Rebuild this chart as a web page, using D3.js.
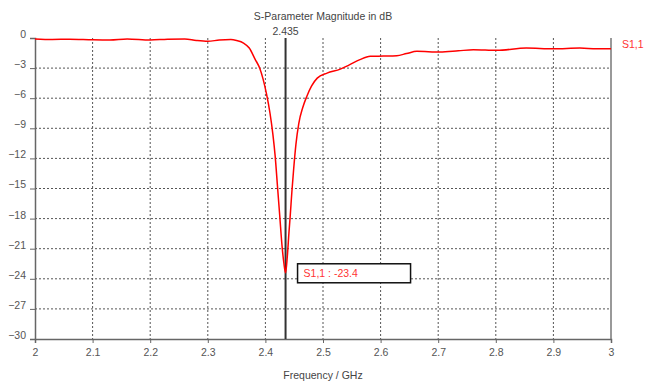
<!DOCTYPE html>
<html>
<head>
<meta charset="utf-8">
<script src="https://cdn.jsdelivr.net/npm/d3@7"></script>
<style>
  body { margin: 0; background: #fff; }
  svg text { font-family: "Liberation Sans", Arial, sans-serif; font-size: 10.5px; }
</style>
</head>
<body>
<svg id="chart"></svg>
<script>
// S1,1
const freq = [2.000, 2.030, 2.060, 2.100, 2.130, 2.160, 2.200, 2.230, 2.260, 2.280,
  2.300, 2.320, 2.340, 2.350, 2.362, 2.372, 2.382, 2.390, 2.396, 2.402,
  2.408, 2.413, 2.417, 2.421, 2.425, 2.429, 2.432, 2.435, 2.438, 2.441,
  2.443, 2.446, 2.449, 2.453, 2.458, 2.465, 2.472, 2.480, 2.490, 2.507,
  2.530, 2.545, 2.564, 2.582, 2.605, 2.628, 2.645, 2.663, 2.703, 2.735,
  2.761, 2.802, 2.853, 2.900, 2.946, 2.975, 3.000];
const s11 = [-0.10, -0.15, -0.12, -0.18, -0.20, -0.10, -0.20, -0.12, -0.10, -0.25,
  -0.33, -0.20, -0.15, -0.25, -0.50, -1.0, -2.1, -3.0, -4.1, -5.6,
  -7.5, -9.6, -11.8, -14.8, -17.8, -20.8, -22.4, -23.4, -21.8, -19.3,
  -17.8, -15.3, -13.1, -10.6, -8.5, -6.9, -5.8, -4.8, -4.0, -3.5,
  -3.1, -2.7, -2.16, -1.83, -1.80, -1.76, -1.55, -1.33, -1.40, -1.28,
  -1.17, -1.23, -1.00, -1.07, -1.00, -1.07, -1.07];
const xTicks = [2, 2.1, 2.2, 2.3, 2.4, 2.5, 2.6, 2.7, 2.8, 2.9, 3];
const yTicks = [0, -3, -6, -9, -12, -15, -18, -21, -24, -27, -30];
const markerX = 2.435;
const markerVal = -23.4;

const W = 654, H = 383;
const margin = {top: 38, right: 43, bottom: 44, left: 35};
const width = W - margin.left - margin.right;
const height = H - margin.top - margin.bottom;
const font = '"Liberation Sans", Arial, sans-serif';

const svg = d3.select('#chart').attr('width', W).attr('height', H);
const g = svg.append('g').attr('transform', 'translate(' + margin.left + ',' + margin.top + ')');

const x = d3.scaleLinear().domain([2, 3]).range([0, width]);
const y = d3.scaleLinear().domain([-30, 0]).range([height, 0]);

// dotted grid
g.append('g').selectAll('line').data(xTicks.slice(1, -1)).enter().append('line')
  .attr('x1', d => x(d)).attr('x2', d => x(d)).attr('y1', 0).attr('y2', height)
  .attr('stroke', '#555').attr('stroke-dasharray', '2,2');
g.append('g').selectAll('line').data(yTicks.slice(1, -1)).enter().append('line')
  .attr('x1', 0).attr('x2', width).attr('y1', d => y(d)).attr('y2', d => y(d))
  .attr('stroke', '#555').attr('stroke-dasharray', '2,2');

// axes
const xAxis = g.append('g').attr('transform', 'translate(0,' + height + ')')
  .call(d3.axisBottom(x).tickValues(xTicks).tickSize(4).tickPadding(4).tickFormat(d3.format('')));
const yAxis = g.append('g')
  .call(d3.axisLeft(y).tickValues(yTicks).tickSize(5).tickPadding(4).tickFormat(d3.format('')));
[xAxis, yAxis].forEach(a => {
  a.select('.domain').attr('stroke', '#666').attr('stroke-width', 1.5);
  a.selectAll('.tick line').attr('stroke', '#666');
  a.selectAll('text').attr('fill', '#555').style('font-size', '10.5px').style('font-family', font);
});
yAxis.selectAll('text').attr('dy', '-0.05em');
xAxis.selectAll('text').attr('dy', '0.9em');
// right border
g.append('line').attr('x1', width).attr('x2', width).attr('y1', 0).attr('y2', height)
  .attr('stroke', '#777').attr('stroke-width', 1.5);

// marker line
g.append('line').attr('x1', x(markerX)).attr('x2', x(markerX)).attr('y1', 0).attr('y2', height)
  .attr('stroke', '#333').attr('stroke-width', 2);
g.append('text').attr('x', x(markerX)).attr('y', -3).attr('text-anchor', 'middle')
  .attr('fill', '#444').text(String(markerX));

// curve
const pts = freq.map((f, i) => [f, s11[i]]);
g.append('path').datum(pts)
  .attr('fill', 'none').attr('stroke', '#ff0000').attr('stroke-width', 1.5)
  .attr('d', d3.line().x(d => x(d[0])).y(d => y(d[1])).curve(d3.curveMonotoneX));

// legend
g.append('text').attr('x', width + 11).attr('y', y(s11[0]) + 9)
  .attr('fill', '#ff3333').text('S1,1');

// marker label box
const bx = x(markerX) + 12, by = y(markerVal) - 9;
g.append('rect').attr('x', bx).attr('y', by).attr('width', 113).attr('height', 19)
  .attr('fill', '#fff').attr('stroke', '#111').attr('stroke-width', 1.5);
g.append('text').attr('x', bx + 6).attr('y', by + 13.5).attr('fill', '#ff3333')
  .text('S1,1 : ' + markerVal);

// titles
svg.append('text').attr('x', 323).attr('y', 20).attr('text-anchor', 'middle')
  .attr('fill', '#444').text('S-Parameter Magnitude in dB');
svg.append('text').attr('x', 323).attr('y', 379).attr('text-anchor', 'middle')
  .attr('fill', '#444').text('Frequency / GHz');
</script>
</body>
</html>
